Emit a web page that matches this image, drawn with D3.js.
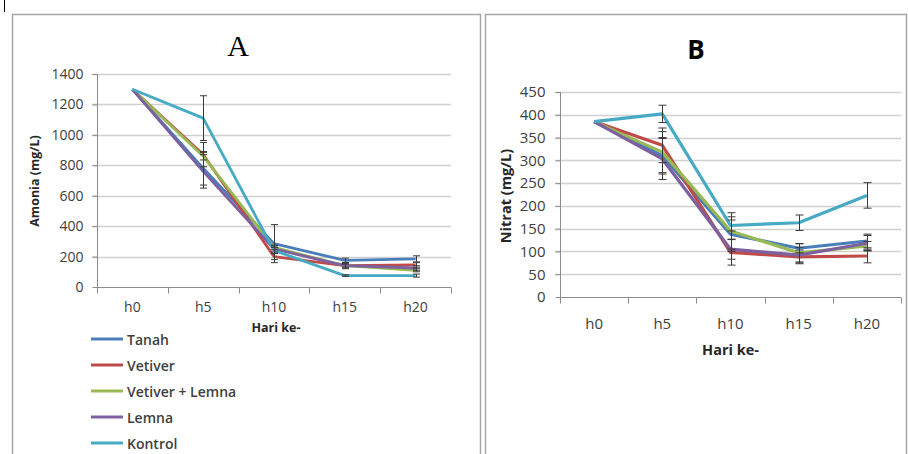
<!DOCTYPE html>
<html>
<head>
<meta charset="utf-8">
<script src="https://cdn.jsdelivr.net/npm/d3@7"></script>
<style>
  html, body { margin: 0; padding: 0; background: #fff; }
  svg { display: block; }
</style>
</head>
<body>
<svg id="chart" width="908" height="454"></svg>
<script>
// Sampling days
const days = ["h0", "h5", "h10", "h15", "h20"];
const seriesNames = ["Tanah", "Vetiver", "Vetiver + Lemna", "Lemna", "Kontrol"];
const seriesColors = ["#4a7ebb", "#be4b48", "#98b954", "#7d60a0", "#46aac5"];

// Ammonia (mg/L), mean and error
const amoniaTanah = [1300, 780, 285, 175, 185];
const amoniaVetiver = [1300, 870, 200, 140, 145];
const amoniaVetiverLemna = [1300, 860, 260, 140, 110];
const amoniaLemna = [1300, 760, 250, 140, 125];
const amoniaKontrol = [1300, 1110, 240, 75, 75];
const amoniaErrTanah = [0, 110, 125, 15, 20];
const amoniaErrVetiver = [0, 80, 20, 15, 15];
const amoniaErrVetiverLemna = [0, 25, 15, 10, 10];
const amoniaErrLemna = [0, 110, 20, 20, 15];
const amoniaErrKontrol = [0, 147, 20, 5, 10];
const amoniaTicks = [0, 200, 400, 600, 800, 1000, 1200, 1400];

// Nitrate (mg/L), mean and error
const nitratTanah = [385, 310, 138, 107, 123];
const nitratVetiver = [385, 333, 98, 88, 90];
const nitratVetiverLemna = [385, 318, 145, 97, 112];
const nitratLemna = [385, 303, 105, 92, 118];
const nitratKontrol = [385, 402, 157, 163, 223];
const nitratErrTanah = [0, 40, 38, 10, 15];
const nitratErrVetiver = [0, 38, 28, 15, 15];
const nitratErrVetiverLemna = [0, 45, 40, 20, 10];
const nitratErrLemna = [0, 45, 22, 17, 17];
const nitratErrKontrol = [0, 19, 12, 17, 28];
const nitratTicks = [0, 50, 100, 150, 200, 250, 300, 350, 400, 450];

const svg = d3.select("#chart");
const FONT = "'Open Sans', 'Liberation Sans', sans-serif";

// Panel frames
svg.append("line").attr("x1", 4.5).attr("x2", 4.5).attr("y1", 0).attr("y2", 12)
  .attr("stroke", "#000").attr("stroke-width", 1);
svg.append("path").attr("d", "M12.5,454 V14.5 H480.5 V454")
  .attr("fill", "none").attr("stroke", "#a6a6a6").attr("stroke-width", 1.5);
svg.append("path").attr("d", "M485.5,454 V14.5 H906.5 V454")
  .attr("fill", "none").attr("stroke", "#a6a6a6").attr("stroke-width", 1.5);

function drawPanel(cfg) {
  const g = svg.append("g");
  const x = d3.scaleBand().domain(days).range([cfg.left, cfg.right]);
  const y = d3.scaleLinear().domain([0, cfg.ticks[cfg.ticks.length - 1]]).range([cfg.bottom, cfg.top]);
  const cx = d => x(d) + x.bandwidth() / 2;

  // horizontal gridlines
  g.append("g").selectAll("line").data(cfg.ticks.filter(t => t > 0)).join("line")
    .attr("x1", cfg.left - 5).attr("x2", cfg.right)
    .attr("y1", d => Math.round(y(d)) + 0.5).attr("y2", d => Math.round(y(d)) + 0.5)
    .attr("stroke", "#d0d0d0").attr("stroke-width", cfg.gridW);

  // y axis
  const yAxis = g.append("g").attr("transform", `translate(${cfg.left + 0.5},0)`)
    .call(d3.axisLeft(y).tickValues(cfg.ticks).tickSize(5).tickPadding(cfg.yPad).tickFormat(d3.format("d")));
  yAxis.select(".domain").attr("stroke", "#8c8c8c").attr("d", `M-0,${cfg.top}V${cfg.bottom}`);
  yAxis.selectAll(".tick line").attr("stroke", "#8c8c8c");
  yAxis.selectAll("text").attr("font-family", FONT).attr("font-size", cfg.tickFont)
    .attr("fill", "#404040");

  // x axis with ticks at category boundaries
  const xg = g.append("g").attr("transform", `translate(0,${Math.round(cfg.bottom) + 0.5})`);
  xg.append("line").attr("x1", cfg.left).attr("x2", cfg.right).attr("stroke", "#8c8c8c");
  const bounds = days.map(d => x(d)).concat([cfg.right]);
  xg.selectAll("line.tk").data(bounds).join("line").attr("class", "tk")
    .attr("x1", d => Math.round(d) + 0.5).attr("x2", d => Math.round(d) + 0.5)
    .attr("y1", 0).attr("y2", 6).attr("stroke", "#8c8c8c");
  xg.selectAll("text").data(days).join("text")
    .attr("x", cx).attr("y", cfg.xLabelDy).attr("text-anchor", "middle")
    .attr("font-family", FONT).attr("font-size", cfg.tickFont).attr("fill", "#404040")
    .text(d => d);

  // axis titles
  g.append("text").attr("x", (cfg.left + cfg.right) / 2 + cfg.xTitleShift).attr("y", cfg.xTitleY)
    .attr("text-anchor", "middle").attr("font-family", FONT).attr("font-weight", "bold")
    .attr("font-size", cfg.titleFont).attr("fill", "#262626").text("Hari ke-");
  g.append("text")
    .attr("transform", `translate(${cfg.yTitleX},${cfg.yTitleY}) rotate(-90)`)
    .attr("text-anchor", "middle").attr("dominant-baseline", "central")
    .attr("font-family", FONT).attr("font-weight", "bold")
    .attr("font-size", cfg.titleFont).attr("fill", "#262626").text(cfg.yTitle);

  // panel letter
  g.append("text").attr("x", cfg.letterX).attr("y", cfg.letterY).attr("text-anchor", "middle")
    .attr("font-family", cfg.letterFamily).attr("font-weight", cfg.letterWeight)
    .attr("font-size", cfg.letterSize).attr("fill", "#000").text(cfg.letter);

  const line = d3.line().x((v, i) => cx(days[i])).y(v => y(v));
  cfg.series.forEach((s, k) => {
    g.append("path").attr("d", line(s)).attr("fill", "none")
      .attr("stroke", seriesColors[k]).attr("stroke-width", cfg.lineW)
      .attr("stroke-linejoin", "round");
  });

  // error bars
  const eg = g.append("g").attr("stroke", "#3a3a3a").attr("stroke-width", 1);
  cfg.series.forEach((s, k) => {
    s.forEach((v, i) => {
      const e = cfg.errors[k][i];
      if (!e) return;
      const px = Math.round(cx(days[i])) + 0.5;
      const y0 = y(v - e), y1 = y(v + e);
      eg.append("line").attr("x1", px).attr("x2", px).attr("y1", y0).attr("y2", y1);
      [y0, y1].forEach(yy => eg.append("line")
        .attr("x1", px - cfg.cap).attr("x2", px + cfg.cap).attr("y1", yy).attr("y2", yy));
    });
  });
}

drawPanel({
  left: 97, right: 451, top: 74, bottom: 287,
  ticks: amoniaTicks,
  series: [amoniaTanah, amoniaVetiver, amoniaVetiverLemna, amoniaLemna, amoniaKontrol],
  errors: [amoniaErrTanah, amoniaErrVetiver, amoniaErrVetiverLemna, amoniaErrLemna, amoniaErrKontrol],
  tickFont: "14px", yPad: 9, xLabelDy: 24, titleFont: "12.5px",
  xTitleY: 332, xTitleShift: 2, yTitle: "Amonia (mg/L)", yTitleX: 34, yTitleY: 181,
  letter: "A", letterX: 238, letterY: 56, letterFamily: "'Liberation Serif', 'DejaVu Serif', serif",
  letterWeight: "normal", letterSize: "30px",
  lineW: 2.8, gridW: 1.5, cap: 3.5
});

drawPanel({
  left: 560, right: 901, top: 92, bottom: 297,
  ticks: nitratTicks,
  series: [nitratTanah, nitratVetiver, nitratVetiverLemna, nitratLemna, nitratKontrol],
  errors: [nitratErrTanah, nitratErrVetiver, nitratErrVetiverLemna, nitratErrLemna, nitratErrKontrol],
  tickFont: "15px", yPad: 10, xLabelDy: 31, titleFont: "14.5px",
  xTitleY: 355, xTitleShift: 0, yTitle: "Nitrat (mg/L)", yTitleX: 505, yTitleY: 196,
  letter: "B", letterX: 696, letterY: 59, letterFamily: FONT,
  letterWeight: "bold", letterSize: "26px",
  lineW: 3.2, gridW: 1.5, cap: 4
});

// legend for both panels
const legend = svg.append("g").selectAll("g").data(seriesNames).join("g")
  .attr("transform", (d, i) => `translate(91,${339 + i * 26})`);
legend.append("line").attr("x1", 0).attr("x2", 32).attr("y1", 0).attr("y2", 0)
  .attr("stroke", (d, i) => seriesColors[i]).attr("stroke-width", 3);
legend.append("text").attr("x", 36).attr("y", 0).attr("dominant-baseline", "central")
  .attr("font-family", FONT).attr("font-size", "14px").attr("font-weight", 600)
  .attr("fill", "#404040").text(d => d);
</script>
</body>
</html>
